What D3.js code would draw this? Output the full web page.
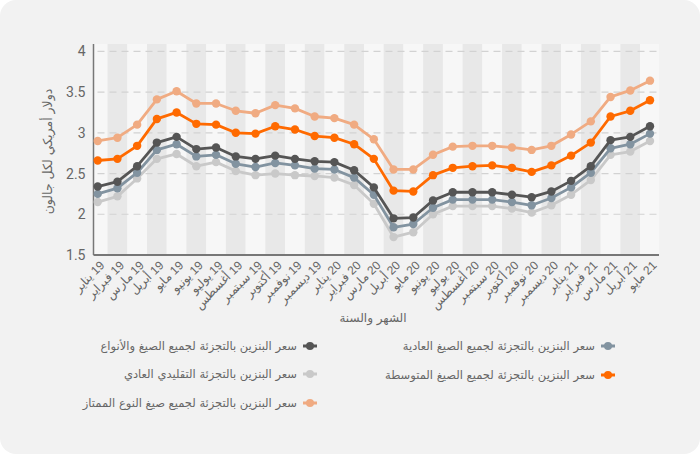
<!DOCTYPE html>
<html><head><meta charset="utf-8">
<script src="https://cdn.jsdelivr.net/npm/d3@7"></script>
<style>
html,body{margin:0;padding:0;background:#fff;}
svg{display:block;font-family:"DejaVu Sans","Noto Sans",sans-serif;}
</style></head>
<body>
<svg id="chart" width="700" height="454"></svg>
<script>
const months = ["يناير 19","فبراير 19","مارس 19","أبريل 19","مايو 19","يونيو 19","يوليو 19","أغسطس 19","سبتمبر 19","أكتوبر 19","نوفمبر 19","ديسمبر 19",
"يناير 20","فبراير 20","مارس 20","أبريل 20","مايو 20","يونيو 20","يوليو 20","أغسطس 20","سبتمبر 20","أكتوبر 20","نوفمبر 20","ديسمبر 20",
"يناير 21","فبراير 21","مارس 21","أبريل 21","مايو 21"];

const allFormulations = [2.34,2.40,2.59,2.88,2.95,2.80,2.82,2.71,2.68,2.72,2.68,2.65,2.64,2.54,2.33,1.95,1.96,2.17,2.27,2.27,2.27,2.24,2.21,2.28,2.41,2.59,2.91,2.95,3.08];
const regularAll = [2.25,2.32,2.51,2.79,2.86,2.71,2.73,2.62,2.58,2.63,2.60,2.56,2.55,2.45,2.24,1.84,1.88,2.08,2.18,2.18,2.18,2.15,2.11,2.20,2.33,2.51,2.81,2.86,2.99];
const conventionalRegular = [2.15,2.22,2.44,2.68,2.74,2.59,2.64,2.53,2.48,2.50,2.48,2.47,2.45,2.36,2.13,1.72,1.78,2.00,2.10,2.10,2.10,2.07,2.02,2.11,2.24,2.42,2.73,2.77,2.90];
const midgrade = [2.66,2.68,2.84,3.17,3.25,3.11,3.10,3.00,2.99,3.08,3.04,2.96,2.94,2.86,2.68,2.29,2.28,2.48,2.57,2.59,2.60,2.57,2.52,2.60,2.72,2.88,3.20,3.27,3.40];
const premium = [2.90,2.94,3.10,3.41,3.51,3.36,3.36,3.27,3.24,3.34,3.30,3.20,3.18,3.10,2.92,2.55,2.55,2.73,2.83,2.84,2.84,2.82,2.79,2.84,2.98,3.14,3.44,3.52,3.64];

const seriesNames = ["سعر البنزين بالتجزئة لجميع الصيغ والأنواع","سعر البنزين بالتجزئة لجميع الصيغ العادية","سعر البنزين بالتجزئة التقليدي العادي","سعر البنزين بالتجزئة لجميع الصيغ المتوسطة","سعر البنزين بالتجزئة لجميع صيغ النوع الممتاز"];
const seriesColors = ["#555555","#8293a0","#c9c9c9","#ff6a00","#f0ab82"];
const yTicks = [1.5,2,2.5,3,3.5,4];
const yTitle = "دولار أمريكي لكل جالون";
const xTitle = "الشهر والسنة";

const series = [
  {name: seriesNames[2], color: seriesColors[2], values: conventionalRegular},
  {name: seriesNames[1], color: seriesColors[1], values: regularAll},
  {name: seriesNames[0], color: seriesColors[0], values: allFormulations},
  {name: seriesNames[3], color: seriesColors[3], values: midgrade},
  {name: seriesNames[4], color: seriesColors[4], values: premium}
];

const svg = d3.select("#chart");
const W = 700, H = 454;
const plot = {left: 93.5, right: 659, top: 44, bottom: 255};

svg.append("rect").attr("x",0).attr("y",0).attr("width",W).attr("height",H)
  .attr("rx",16).attr("fill","#f2f2f2");

const x = d3.scalePoint().domain(months).range([97.7, 650]);
const step = x.step();
const y = d3.scaleLinear().domain([1.5, 4.09]).range([plot.bottom, plot.top]);

const g = svg.append("g");
g.append("rect").attr("x",plot.left).attr("y",plot.top).attr("width",plot.right-plot.left).attr("height",plot.bottom-plot.top).attr("fill","#f7f7f7");
g.selectAll("rect.band").data(months).enter().append("rect").attr("class","band")
  .attr("x", d => Math.max(plot.left, x(d)-step/2))
  .attr("width", d => Math.min(plot.right, x(d)+step/2) - Math.max(plot.left, x(d)-step/2))
  .attr("y", plot.top).attr("height", plot.bottom-plot.top)
  .attr("fill", (d,i) => i%2===1 ? "#e8e8e8" : "#f7f7f7");

g.selectAll("line.grid").data(yTicks.filter(t=>t>1.5)).enter().append("line")
  .attr("x1", plot.left+4).attr("x2", plot.right)
  .attr("y1", d=>y(d)).attr("y2", d=>y(d))
  .attr("stroke","#d2d2d2").attr("stroke-width",1.2).attr("stroke-dasharray","7,5");

const yAxis = d3.axisLeft(y).tickValues(yTicks).tickSize(0).tickPadding(8).tickFormat(d3.format("~g"));
const yg = svg.append("g").attr("transform",`translate(${plot.left},0)`).call(yAxis);
yg.select(".domain").attr("stroke","#777").attr("stroke-width",1.5).attr("d",`M0,${plot.top}V${plot.bottom}`);
yg.selectAll("text").attr("fill","#666").attr("font-size",14).attr("font-family","Roboto, 'Noto Sans', sans-serif");

const xAxis = d3.axisBottom(x).tickSize(0).tickPadding(0)
  .tickFormat(d => d.replace(" ", " \u200E"));
const xg = svg.append("g").attr("transform",`translate(0,${plot.bottom})`).call(xAxis);
xg.select(".domain").attr("stroke","#777").attr("stroke-width",2).attr("d",`M${plot.left},0H${plot.right}`);
xg.selectAll("text").attr("fill","#666").attr("font-size",12)
  .attr("text-anchor","end").attr("dy","0").attr("direction","ltr")
  .attr("transform","translate(7,11) rotate(-45)");

const line = d3.line().x((d,i)=>x(months[i])).y(d=>y(d));
series.forEach(s => {
  const sg = svg.append("g");
  sg.append("path").datum(s.values).attr("d", line).attr("fill","none")
    .attr("stroke", s.color).attr("stroke-width",2.8).attr("stroke-linejoin","round");
  sg.selectAll("circle").data(s.values).enter().append("circle")
    .attr("cx",(d,i)=>x(months[i])).attr("cy",d=>y(d)).attr("r",4.2).attr("fill",s.color);
});

svg.append("text").attr("transform",`translate(52,${(plot.top+plot.bottom)/2 + 2}) rotate(-90)`)
  .attr("text-anchor","middle").attr("fill","#666").attr("font-size",12.5).text(yTitle);
svg.append("text").attr("x",373).attr("y",322).attr("text-anchor","middle")
  .attr("fill","#666").attr("font-size",12).text(xTitle);

const legendItems = [
  {name: seriesNames[1], color: seriesColors[1], mx: 608, y: 346},
  {name: seriesNames[3], color: seriesColors[3], mx: 608, y: 375},
  {name: seriesNames[0], color: seriesColors[0], mx: 310, y: 346},
  {name: seriesNames[2], color: seriesColors[2], mx: 310, y: 374},
  {name: seriesNames[4], color: seriesColors[4], mx: 310, y: 403}
];
const lg = svg.append("g");
legendItems.forEach(it => {
  const e = lg.append("g");
  e.append("line").attr("x1",it.mx-7).attr("x2",it.mx+7).attr("y1",it.y).attr("y2",it.y)
    .attr("stroke",it.color).attr("stroke-width",3);
  e.append("circle").attr("cx",it.mx).attr("cy",it.y).attr("r",4).attr("fill",it.color);
  e.append("text").attr("x",it.mx-13).attr("y",it.y).attr("dy","0.35em")
    .attr("text-anchor","end").attr("fill","#666").attr("font-size",11.5).text(it.name);
});
</script>
</body></html>
